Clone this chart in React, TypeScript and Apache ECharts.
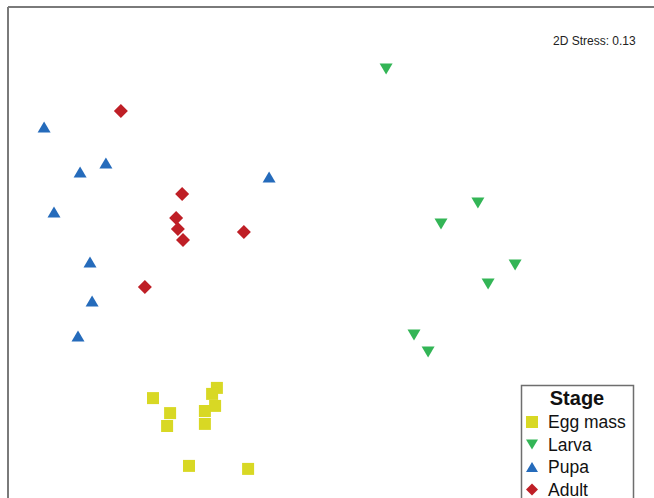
import React, { useEffect, useRef } from "react";
import * as echarts from "echarts";

// NMDS ordination scores (NMDS1, NMDS2) for each sample, grouped by life stage
const eggMass: [number, number][] = [
  [-0.58, -0.497], [-0.523, -0.547], [-0.533, -0.59], [-0.367, -0.463], [-0.383, -0.483],
  [-0.373, -0.523], [-0.407, -0.54], [-0.407, -0.583], [-0.46, -0.723], [-0.263, -0.733],
];
const larva: [number, number][] = [
  [0.197, 0.6], [0.503, 0.153], [0.38, 0.083], [0.627, -0.053], [0.537, -0.117],
  [0.29, -0.287], [0.337, -0.343],
];
const pupa: [number, number][] = [
  [-0.943, 0.407], [-0.823, 0.257], [-0.737, 0.287], [-0.91, 0.123], [-0.193, 0.24],
  [-0.79, -0.043], [-0.783, -0.173], [-0.83, -0.29],
];
const adult: [number, number][] = [
  [-0.687, 0.46], [-0.483, 0.183], [-0.503, 0.103], [-0.497, 0.067], [-0.48, 0.03],
  [-0.277, 0.057], [-0.607, -0.127],
];

const stages = ["Egg mass", "Larva", "Pupa", "Adult"];
const stressLabel = "2D Stress: 0.13";

const FONT = "'Liberation Sans', Arial, sans-serif";

export default function App() {
  const ref = useRef<HTMLDivElement>(null);

  useEffect(() => {
    if (!ref.current) return;
    const chart = echarts.init(ref.current, undefined, { renderer: "svg" });

    const series = [
      { name: stages[0], data: eggMass, symbol: "rect", symbolSize: 12, color: "#d8d824" },
      { name: stages[1], data: larva, symbol: "path://M0,0 L12,0 L6,10 Z", symbolSize: [13, 11], color: "#33b556" },
      { name: stages[2], data: pupa, symbol: "path://M6,0 L12,10 L0,10 Z", symbolSize: [13, 11], color: "#256bbb" },
      { name: stages[3], data: adult, symbol: "diamond", symbolSize: 14, color: "#bf1f26" },
    ].map((s) => ({
      type: "scatter" as const,
      name: s.name,
      data: s.data,
      symbol: s.symbol,
      symbolSize: s.symbolSize,
      itemStyle: { color: s.color, opacity: 1 },
      emphasis: { disabled: true },
    }));

    chart.setOption({
      animation: false,
      backgroundColor: "#ffffff",
      grid: { left: 0, right: 0, top: 0, bottom: 0 },
      xAxis: { type: "value", min: -1.09, max: 1.09, show: false },
      yAxis: { type: "value", min: -0.83, max: 0.83, show: false },
      legend: {
        orient: "vertical",
        left: 526,
        top: 411,
        width: 110,
        height: 130,
        itemGap: 0.5,
        itemWidth: 12,
        itemHeight: 12,
        padding: 0,
        selectedMode: false,
        data: stages,
        textStyle: {
          fontSize: 17.5,
          lineHeight: 22,
          color: "#111",
          fontFamily: FONT,
          padding: [0, 0, 0, 5],
        },
      },
      series,
      graphic: [
        {
          type: "line",
          shape: { x1: 8, y1: 7, x2: 660, y2: 7 },
          style: { stroke: "#7a7a7a", lineWidth: 2 },
        },
        {
          type: "line",
          shape: { x1: 8, y1: 7, x2: 8, y2: 510 },
          style: { stroke: "#7a7a7a", lineWidth: 2 },
        },
        {
          type: "text",
          x: 553,
          y: 35,
          style: { text: stressLabel, fontSize: 12, fill: "#222", fontFamily: FONT },
        },
        {
          type: "rect",
          shape: { x: 521.5, y: 385.5, width: 112, height: 130 },
          style: { fill: "none", stroke: "#6e6e6e", lineWidth: 1.5 },
          z: -1,
        },
        {
          type: "text",
          x: 577,
          y: 388,
          style: {
            text: "Stage",
            fontSize: 20,
            fontWeight: "bold",
            fill: "#111",
            fontFamily: FONT,
            align: "center",
          },
        },
      ],
    });

    return () => chart.dispose();
  }, []);

  return (
    <div
      ref={ref}
      style={{ position: "fixed", left: 0, top: 0, width: 654, height: 498 }}
    />
  );
}
